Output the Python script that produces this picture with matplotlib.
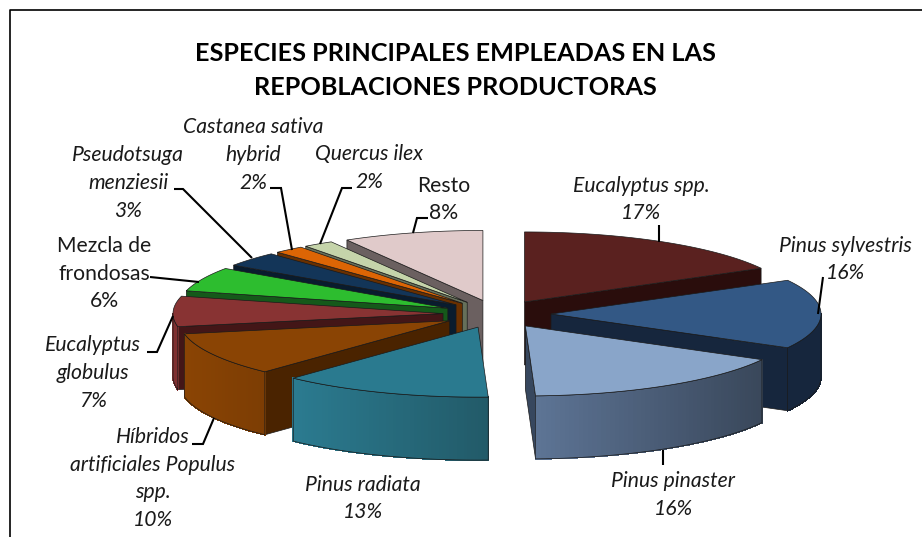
#!/usr/bin/env python
# exploded 3d pie, drawn by hand because matplotlib has no such pie
import numpy as np
import matplotlib
matplotlib.use('Agg')
import matplotlib.pyplot as plt
from matplotlib.collections import PolyCollection

plt.rcParams['font.family'] = ['Lato', 'DejaVu Sans']

species = ['Eucalyptus spp.', 'Pinus sylvestris', 'Pinus pinaster', 'Pinus radiata',
           'Híbridos\nartificiales Populus\nspp.', 'Eucalyptus\nglobulus', 'Mezcla de\nfrondosas',
           'Pseudotsuga\nmenziesii', 'Castanea sativa\nhybrid', 'Quercus ilex', 'Resto']
values = [17, 16, 16.4, 12.6, 10, 7, 5.6, 3.4, 1.8, 1.8, 8.4]
percents = ['17%', '16%', '16%', '13%', '10%', '7%', '6%', '3%', '2%', '2%', '8%']

top_colors = ['#5a211f', '#335885', '#89a5c9', '#2a7a8f', '#8a4404', '#883333',
              '#2dbd2f', '#133558', '#dc6505', '#c5d4aa', '#e0caca']
cut_colors = ['#2a0d0c', '#16263d', '#37475e', '#1d5665', '#4a2300', '#431617',
              '#15591a', '#091c2e', '#6a3000', '#66705a', '#6b6060']
rim_left = ['#2a0d0c', '#16263d', '#5d7495', '#2b7b90', '#8a4404', '#7f2f30',
            '#15591a', '#091c2e', '#6a3000', '#66705a', '#6b6060']
rim_right = ['#2a0d0c', '#16263d', '#39475a', '#225a68', '#7c3d04', '#7f2f30',
             '#15591a', '#091c2e', '#6a3000', '#66705a', '#6b6060']

# pie geometry in pixels
cx, cy = 497, 314
rx, ry = 270, 70
explode = 0.2
depth = 63
edge = '#1a1a1a'

# text: x, y of the centre of the block, italic or not
label_pos = [(641, 199.5), (845, 259.5), (673, 495), (363, 498.5), (153, 478.5), (93, 373),
             (104, 273.5), (128, 183), (253, 155), (369, 168), (444, 199.5)]
italic = [True, True, True, True, True, True, False, True, True, True, False]

# leader lines
leaders = [[(659, 225), (659, 242)],
           [(823, 277), (818, 314)],
           [(663, 450), (663, 465)],
           [],
           [(192, 444), (203, 444), (214, 418)],
           [(147, 352), (157, 352), (173, 316)],
           [(150, 277), (199, 282)],
           [(174, 189), (183, 189), (252, 258)],
           [(270, 188), (281, 188), (292, 250)],
           [(352, 188), (342, 188), (320, 244)],
           [(428, 218), (417, 218), (413, 233)]]


def blend(c1, c2, t):
    a = np.array(matplotlib.colors.to_rgb(c1))
    b = np.array(matplotlib.colors.to_rgb(c2))
    return tuple(a + (b - a) * t)


fig = plt.figure(figsize=(9.22, 5.37), dpi=100)
ax = fig.add_axes([0, 0, 1, 1])
ax.set_xlim(0, 922)
ax.set_ylim(537, 0)
ax.axis('off')

# frame of the chart, only left and top are in the crop
ax.plot([10, 10, 922], [537, 10, 10], color='black', lw=1.2, zorder=1)

cum = np.cumsum([0] + values) / float(sum(values)) * 2 * np.pi
mids = (cum[:-1] + cum[1:]) / 2
order = np.argsort(-np.cos(mids))

z = 2
for i in order:
    t0, t1 = cum[i], cum[i + 1]
    ox = cx + explode * rx * np.sin(mids[i])
    oy = cy - explode * ry * np.cos(mids[i])
    th = np.linspace(t0, t1, 80)
    xs = ox + rx * np.sin(th)
    ys = oy - ry * np.cos(th)

    # cut faces, only the ones turned to the viewer
    for t, show in [(t0, np.sin(t0) < 0), (t1, np.sin(t1) > 0)]:
        if show:
            ex, ey = ox + rx * np.sin(t), oy - ry * np.cos(t)
            ax.fill([ox, ex, ex, ox], [oy, ey, ey + depth, oy + depth],
                    facecolor=cut_colors[i], edgecolor=edge, lw=0.5, zorder=z)
            z += 1

    # outer rim, with a left to right gradient
    lo, hi = max(t0, np.pi / 2), min(t1, 3 * np.pi / 2)
    if hi > lo:
        rt = np.linspace(lo, hi, 60)
        rxs = ox + rx * np.sin(rt)
        rys = oy - ry * np.cos(rt)
        quads, cols = [], []
        for j in range(len(rt) - 1):
            quads.append([(rxs[j], rys[j]), (rxs[j + 1], rys[j + 1]),
                          (rxs[j + 1], rys[j + 1] + depth), (rxs[j], rys[j] + depth)])
            f = (0.5 * (rxs[j] + rxs[j + 1]) - xs.min()) / max(xs.max() - xs.min(), 1)
            cols.append(blend(rim_left[i], rim_right[i], f))
        ax.add_collection(PolyCollection(quads, facecolors=cols, edgecolors=cols, linewidths=0.6,
                                         antialiaseds=False, zorder=z))
        z += 1
        ax.plot(np.r_[rxs, rxs[::-1], rxs[0]], np.r_[rys, rys[::-1] + depth, rys[0]],
                color=edge, lw=0.5, zorder=z)
        z += 1

    # top surface
    ax.fill(np.r_[ox, xs], np.r_[oy, ys], facecolor=top_colors[i], edgecolor=edge, lw=0.5, zorder=z)
    z += 1

for pts in leaders:
    if pts:
        ax.plot([p[0] for p in pts], [p[1] for p in pts], color='black', lw=1.5,
                solid_capstyle='butt', solid_joinstyle='miter', zorder=z)

ax.text(455, 70.5, 'ESPECIES PRINCIPALES EMPLEADAS EN LAS\nREPOBLACIONES PRODUCTORAS',
        ha='center', va='center', fontsize=18.2, fontweight='bold', color='black',
        linespacing=1.55, zorder=z + 1)

for name, pct, (x, y), it in zip(species, percents, label_pos, italic):
    ax.text(x, y, name + '\n' + pct, ha='center', va='center', fontsize=15.2,
            style='italic' if it else 'normal', color='#1a1a1a', linespacing=1.48, zorder=z + 1)

fig.savefig('out.png', dpi=100)
